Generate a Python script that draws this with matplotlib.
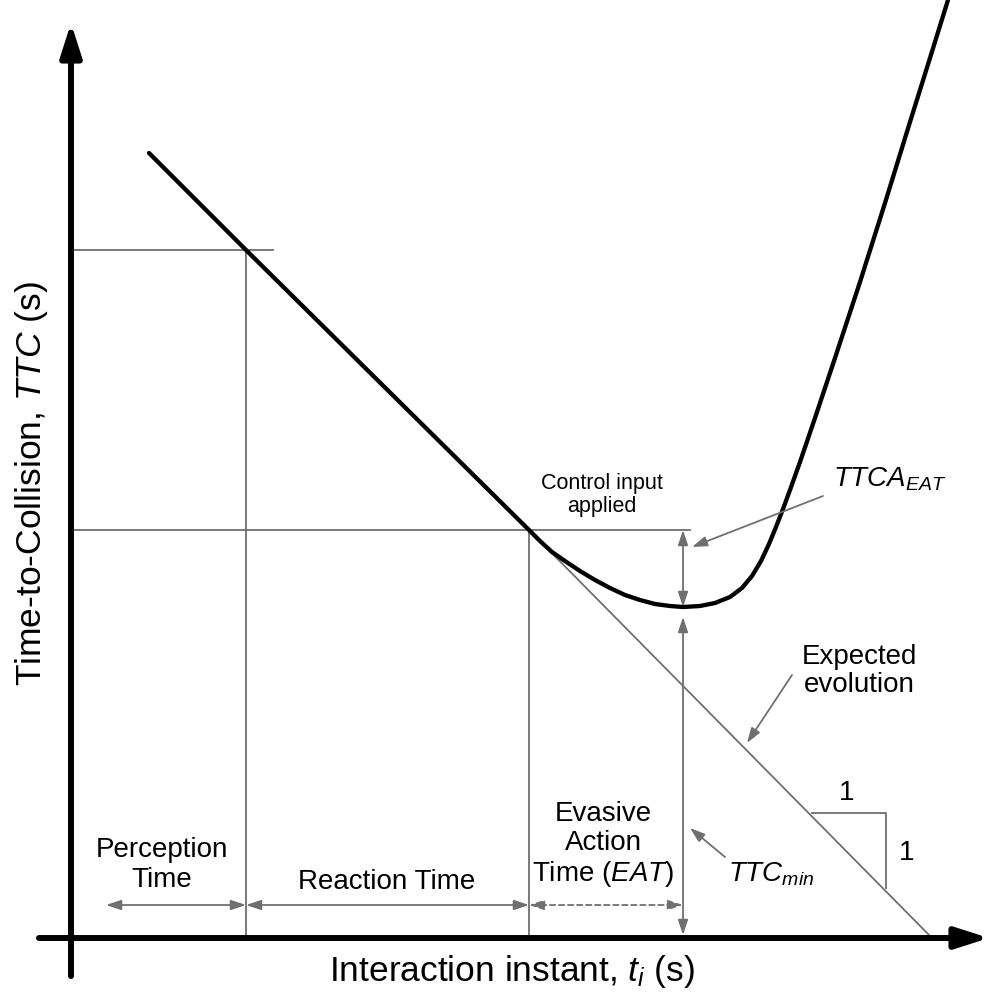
import matplotlib
matplotlib.use("Agg")
import matplotlib.pyplot as plt

plt.rcParams['font.family'] = ['Liberation Sans', 'DejaVu Sans']
plt.rcParams['mathtext.fontset'] = 'custom'
plt.rcParams['mathtext.rm'] = 'Liberation Sans'
plt.rcParams['mathtext.it'] = 'Liberation Sans:italic'
plt.rcParams['mathtext.bf'] = 'Liberation Sans:bold'

# TTC evolution (schematic units)
curve_t = [78, 175, 458, 469, 481, 494, 509, 524, 539, 554, 569, 584, 599, 612,
           629, 644, 659, 671, 681, 690, 698, 705, 712, 719, 729, 744, 764, 789,
           814, 839, 859, 877]
curve_ttc = [785, 688, 408, 397, 386, 377, 367, 358, 350, 343, 338, 334, 332, 331,
             332, 335, 341, 350, 362, 377, 394, 411, 429, 448, 476, 520, 580, 656,
             735, 816, 880, 938]

# key instants
t_percep, ttc_percep = 175, 688
t_control, ttc_control = 458, 408
t_min, ttc_min = 612, 331
t_expected_end = 861

# slope triangle
tri_t = [741, 815, 815]
tri_ttc = [125, 125, 50]

labels_y = 33
grey = '#6f6f6f'

fig = plt.figure(figsize=(9.89, 10.02), dpi=100)
ax = fig.add_axes([0, 0, 1, 1])
ax.set_xlim(-71, 918)
ax.set_ylim(-64, 938)
ax.axis('off')


def arrow(x0, y0, x1, y1, style='-|>', ls='-', hl=0.6, hw=0.2):
    ax.annotate('', xy=(x1, y1), xytext=(x0, y0),
                arrowprops=dict(arrowstyle='%s,head_length=%s,head_width=%s' % (style, hl, hw),
                                color=grey, lw=1.3, ls=ls, shrinkA=0, shrinkB=0,
                                mutation_scale=15))


# axes arrows
ax.annotate('', xy=(0, 915), xytext=(0, -38),
            arrowprops=dict(arrowstyle='-|>,head_length=1.0,head_width=0.32', color='k',
                            lw=4.3, shrinkA=0, shrinkB=0, mutation_scale=20))
ax.annotate('', xy=(918, 0), xytext=(-32, 0),
            arrowprops=dict(arrowstyle='-|>,head_length=1.0,head_width=0.32', color='k',
                            lw=4.3, shrinkA=0, shrinkB=0, mutation_scale=20))

# guide lines
ax.plot([0, 202], [ttc_percep, ttc_percep], color=grey, lw=1.3)
ax.plot([t_percep, t_percep], [0, ttc_percep], color=grey, lw=1.3)
ax.plot([0, 619], [ttc_control, ttc_control], color=grey, lw=1.3)
ax.plot([t_control, t_control], [0, ttc_control], color=grey, lw=1.3)
ax.plot([t_control, t_expected_end], [ttc_control, 0], color=grey, lw=1.3)
ax.plot(tri_t, tri_ttc, color=grey, lw=1.3)

# main curve
ax.plot(curve_t, curve_ttc, color='k', lw=3.1, solid_capstyle='round', solid_joinstyle='round')

# double arrows
arrow(t_min, ttc_control, t_min, ttc_min, style='<|-|>')
arrow(t_min, ttc_min - 10, t_min, 3, style='<|-|>')
arrow(35, labels_y, t_percep, labels_y, style='<|-|>')
arrow(t_percep, labels_y, t_control, labels_y, style='<|-|>')
arrow(t_control, labels_y, t_min, labels_y, style='<|-|>', ls=(0, (3, 2)))

# leaders
arrow(752, 442, 621, 391)
arrow(721, 263, 676, 195)
arrow(654, 81, 619, 110)

# texts
ax.text(531, 443, 'Control input\napplied', ha='center', va='center', fontsize=15.5,
        linespacing=1.1)
ax.text(91, 73, 'Perception\nTime', ha='center', va='center', fontsize=20, linespacing=1.2)
ax.text(316, 56, 'Reaction Time', ha='center', va='center', fontsize=20)
ax.text(532, 93, 'Evasive\nAction\nTime ($EAT$)', ha='center', va='center', fontsize=20,
        linespacing=1.15)
ax.text(788, 267, 'Expected\nevolution', ha='center', va='center', fontsize=20,
        linespacing=1.15)
ax.text(657, 57, '$TTC_{min}$', ha='left', va='baseline', fontsize=20)
ax.text(762, 452, '$TTCA_{EAT}$', ha='left', va='baseline', fontsize=20)
ax.text(776, 145, '1', ha='center', va='center', fontsize=20)
ax.text(836, 85, '1', ha='center', va='center', fontsize=20)

ax.text(-39, 454, 'Time-to-Collision, $TTC$ (s)', rotation=90, ha='center', va='center',
        fontsize=25.5)
ax.text(441, -34, 'Interaction instant, $t_i$ (s)', ha='center', va='center', fontsize=25.5)

fig.savefig('out.png', dpi=100)
